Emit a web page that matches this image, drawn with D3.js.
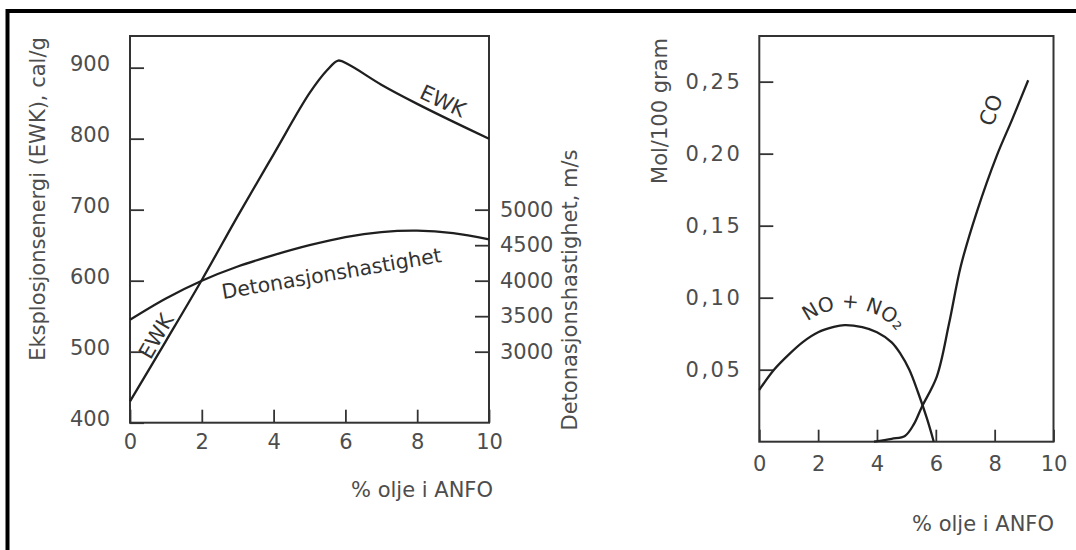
<!DOCTYPE html>
<html>
<head>
<meta charset="utf-8">
<script src="https://cdn.jsdelivr.net/npm/d3@7"></script>
<style>
  body { margin: 0; background: #fff; }
  svg { display: block; font-family: "DejaVu Sans", sans-serif; }
</style>
</head>
<body>
<svg id="chart" width="1076" height="550"></svg>
<script>
// tick values
const oilTicks = [0, 2, 4, 6, 8, 10];
const ewkTicks = [400, 500, 600, 700, 800, 900];
const detTicks = [3000, 3500, 4000, 4500, 5000];
const molTicks = [0.05, 0.10, 0.15, 0.20, 0.25];

// left panel: explosion energy (cal/g) vs % oil
const ewkOil = [0, 1, 2, 3, 4, 5, 5.5, 5.8, 6.1, 7, 8, 9, 10];
const ewkVal = [430, 515, 601, 691, 778, 864, 897, 910, 904, 876, 849, 824, 800];

// left panel: detonation velocity (m/s) vs % oil
const detOil = [0, 1, 2, 3, 4, 5, 6, 7, 8, 9, 10];
const detVal = [3450, 3750, 4000, 4200, 4360, 4500, 4615, 4685, 4705, 4670, 4583];

// right panel: mol / 100 gram
const noxOil = [0, 0.5, 1, 1.5, 2, 2.5, 2.9, 3.5, 4, 4.5, 4.8, 5.1, 5.4, 5.7, 5.93];
const noxMol = [0.036, 0.050, 0.0605, 0.0695, 0.076, 0.0795, 0.081, 0.0795, 0.076, 0.069, 0.061, 0.050, 0.034, 0.016, 0];
const coOil = [3.9, 4.5, 4.95, 5.25, 5.52, 6.03, 6.45, 6.85, 7.4, 8.06, 8.6, 9.14];
const coMol = [0, 0.002, 0.004, 0.012, 0.024, 0.045, 0.082, 0.122, 0.160, 0.198, 0.224, 0.251];

const lineColor = '#1f1f1f';
const textColor = '#4d4d4d';
const fontSize = 21;

const svg = d3.select('#chart');

// scanned frame edge (top and left)
svg.append('path')
  .attr('d', 'M7.5,550 V11 H1076')
  .attr('fill', 'none')
  .attr('stroke', '#000')
  .attr('stroke-width', 4);

// ---------- left panel ----------
const xL = d3.scaleLinear().domain([0, 10]).range([130, 489]);
const yL = d3.scaleLinear().domain([400, 944.6]).range([422.7, 36]);
const yDet = d3.scaleLinear().domain([2000, 7446]).range([422.7, 36]);

// ---------- right panel ----------
const xR = d3.scaleLinear().domain([0, 10]).range([759.3, 1053.5]);
const yR = d3.scaleLinear().domain([0, 0.2817]).range([441.7, 36]);

function styleAxis(g) {
  g.select('.domain').remove();
  g.selectAll('.tick line').attr('stroke', '#333').attr('stroke-width', 1.8);
  g.selectAll('.tick text')
    .attr('fill', textColor)
    .style('font-size', fontSize + 'px')
    .style('font-family', '"DejaVu Sans", sans-serif');
}

// boxes
[[xL, yL], [xR, yR]].forEach(([x, y]) => {
  svg.append('rect')
    .attr('x', x.range()[0])
    .attr('y', y.range()[1])
    .attr('width', x.range()[1] - x.range()[0])
    .attr('height', y.range()[0] - y.range()[1])
    .attr('fill', 'none')
    .attr('stroke', '#333')
    .attr('stroke-width', 2);
});

// left panel axes
svg.append('g')
  .attr('transform', `translate(${xL.range()[0]},0)`)
  .call(d3.axisLeft(yL).tickValues(ewkTicks).tickSize(-14).tickPadding(20))
  .call(styleAxis)
  .selectAll('.tick text').attr('dy', '0.15em');

svg.append('g')
  .attr('transform', `translate(0,${yL.range()[0]})`)
  .call(d3.axisBottom(xL).tickValues(oilTicks).tickSize(-13).tickPadding(11))
  .call(styleAxis);

svg.append('g')
  .attr('transform', `translate(${xL.range()[1]},0)`)
  .call(d3.axisRight(yDet).tickValues(detTicks).tickSize(-14).tickPadding(11)
    .tickFormat(d3.format('d')))
  .call(styleAxis);

// right panel axes
svg.append('g')
  .attr('transform', `translate(${xR.range()[0]},0)`)
  .call(d3.axisLeft(yR).tickValues(molTicks).tickSize(-14).tickPadding(17)
    .tickFormat(d => d3.format('.2f')(d).replace('.', ',')))
  .call(styleAxis)
  .selectAll('.tick text').style('letter-spacing', '2.5px');

svg.append('g')
  .attr('transform', `translate(0,${yR.range()[0]})`)
  .call(d3.axisBottom(xR).tickValues(oilTicks).tickSize(-12).tickPadding(14))
  .call(styleAxis);

// curves
const curve = (xs, ys, x, y) => d3.line()
  .x((d, i) => x(xs[i]))
  .y((d, i) => y(ys[i]))
  .curve(d3.curveCatmullRom.alpha(0.5))(xs);

const series = [
  [ewkOil, ewkVal, xL, yL],
  [detOil, detVal, xL, yDet],
  [noxOil, noxMol, xR, yR],
  [coOil, coMol, xR, yR]
];
series.forEach(([xs, ys, x, y]) => {
  svg.append('path')
    .attr('d', curve(xs, ys, x, y))
    .attr('fill', 'none')
    .attr('stroke', lineColor)
    .attr('stroke-width', 2.3)
    .attr('stroke-linejoin', 'round');
});

// axis titles
function title(txt, x, y, rot) {
  svg.append('text')
    .attr('transform', `translate(${x},${y}) rotate(${rot})`)
    .attr('text-anchor', 'middle')
    .attr('fill', textColor)
    .style('font-size', fontSize + 'px')
    .text(txt);
}
title('Eksplosjonsenergi (EWK), cal/g', 45, 199, -90);
title('Detonasjonshastighet, m/s', 577, 290, -90);
title('Mol/100 gram', 667, 111, -90);
title('% olje i ANFO', 422, 497, 0);
title('% olje i ANFO', 983, 531, 0);

// curve labels
function curveLabel(txt, x, y, rot, anchor, size) {
  svg.append('text')
    .attr('transform', `translate(${x},${y}) rotate(${rot})`)
    .attr('text-anchor', anchor || 'middle')
    .attr('dy', anchor === 'start' ? 0 : '0.35em')
    .attr('fill', '#333')
    .style('font-size', (size || fontSize) + 'px')
    .text(txt);
}
curveLabel('EWK', 443, 101, 25);
curveLabel('EWK', 156, 336, -60);
curveLabel('Detonasjonshastighet', 223, 299, -9.6, 'start', 20.4);
curveLabel('CO', 991, 110, -70);

// NO + NO2 label follows the NOx curve, lifted above it
const noxLabelPath = svg.append('path')
  .attr('id', 'noxLabelPath')
  .attr('d', d3.line()
    .x((d, i) => xR(noxOil[i]))
    .y((d, i) => yR(noxMol[i]) - 17)
    .curve(d3.curveCatmullRom.alpha(0.5))(noxOil))
  .attr('fill', 'none');

const node = noxLabelPath.node();
let lo = 0, hi = node.getTotalLength();
const targetX = 854;
for (let k = 0; k < 40; k++) {
  const mid = (lo + hi) / 2;
  if (node.getPointAtLength(mid).x < targetX) lo = mid; else hi = mid;
}

svg.append('text')
  .attr('fill', '#333')
  .style('font-size', '20px')
  .append('textPath')
  .attr('href', '#noxLabelPath')
  .attr('startOffset', lo)
  .attr('text-anchor', 'middle')
  .text('NO + NO₂');
</script>
</body>
</html>
